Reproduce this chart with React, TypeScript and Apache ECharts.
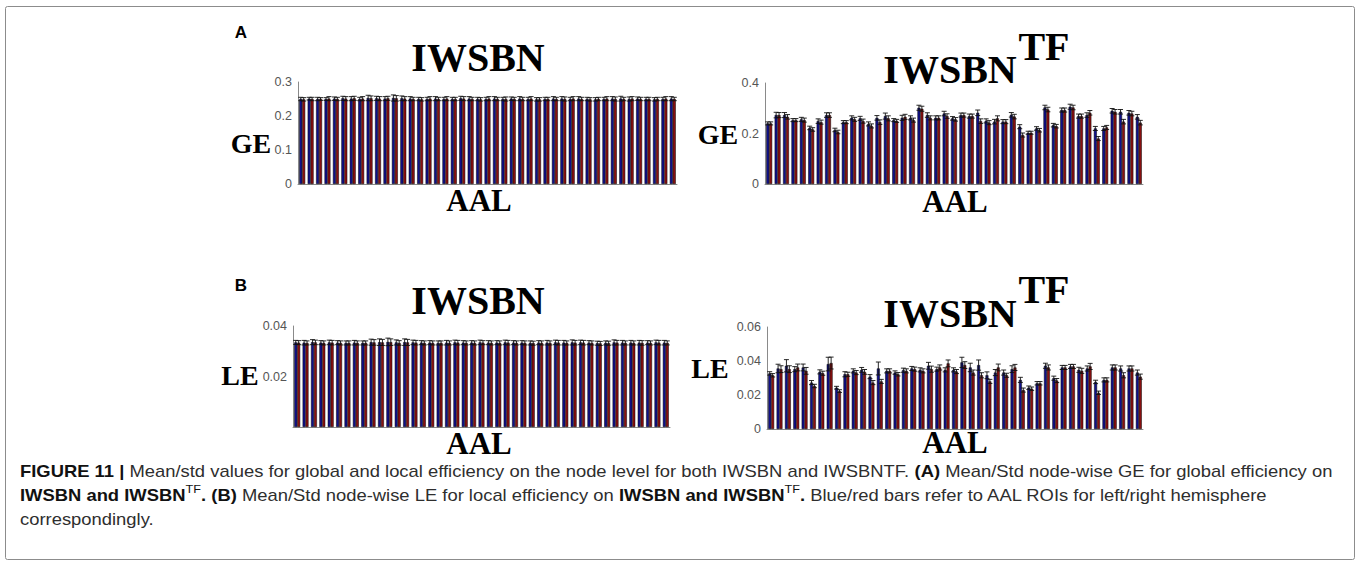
import React, { useEffect, useRef } from "react";
import * as echarts from "echarts";

// AAL regions, one category per left/right pair
const aalRegions = [
  "Precentral", "Frontal_Sup", "Frontal_Sup_Orb", "Frontal_Mid", "Frontal_Mid_Orb",
  "Frontal_Inf_Oper", "Frontal_Inf_Tri", "Frontal_Inf_Orb", "Rolandic_Oper", "Supp_Motor_Area",
  "Olfactory", "Frontal_Sup_Medial", "Frontal_Med_Orb", "Rectus", "Insula",
  "Cingulum_Ant", "Cingulum_Mid", "Cingulum_Post", "Hippocampus", "ParaHippocampal",
  "Amygdala", "Calcarine", "Cuneus", "Lingual", "Occipital_Sup",
  "Occipital_Mid", "Occipital_Inf", "Fusiform", "Postcentral", "Parietal_Sup",
  "Parietal_Inf", "SupraMarginal", "Angular", "Precuneus", "Paracentral_Lobule",
  "Caudate", "Putamen", "Pallidum", "Thalamus", "Heschl",
  "Temporal_Sup", "Temporal_Pole_Sup", "Temporal_Mid", "Temporal_Pole_Mid", "Temporal_Inf",
];

// (A) global efficiency, IWSBN
const geIwsbnLeft = [0.250, 0.251, 0.250, 0.250, 0.251, 0.252, 0.251, 0.250, 0.253, 0.252, 0.251, 0.253, 0.252, 0.251, 0.250, 0.250, 0.251, 0.250, 0.250, 0.252, 0.251, 0.250, 0.250, 0.251, 0.250, 0.251, 0.251, 0.250, 0.249, 0.250, 0.251, 0.251, 0.250, 0.251, 0.250, 0.249, 0.250, 0.251, 0.251, 0.250, 0.251, 0.250, 0.249, 0.250, 0.251];
const geIwsbnRight = [0.249, 0.250, 0.250, 0.251, 0.250, 0.251, 0.252, 0.251, 0.252, 0.251, 0.252, 0.252, 0.251, 0.250, 0.249, 0.251, 0.250, 0.251, 0.250, 0.251, 0.250, 0.249, 0.251, 0.250, 0.250, 0.250, 0.250, 0.251, 0.249, 0.250, 0.250, 0.250, 0.251, 0.250, 0.249, 0.250, 0.251, 0.250, 0.250, 0.251, 0.250, 0.250, 0.250, 0.251, 0.250];
const geIwsbnErrLeft = [0.005, 0.004, 0.005, 0.004, 0.005, 0.006, 0.006, 0.005, 0.008, 0.006, 0.006, 0.009, 0.007, 0.006, 0.005, 0.005, 0.006, 0.005, 0.005, 0.006, 0.006, 0.005, 0.005, 0.006, 0.005, 0.005, 0.006, 0.005, 0.005, 0.005, 0.006, 0.006, 0.005, 0.006, 0.005, 0.005, 0.005, 0.006, 0.007, 0.006, 0.005, 0.005, 0.005, 0.005, 0.006];
const geIwsbnErrRight = [0.005, 0.005, 0.004, 0.006, 0.005, 0.006, 0.006, 0.006, 0.007, 0.006, 0.006, 0.008, 0.006, 0.005, 0.005, 0.006, 0.005, 0.006, 0.005, 0.006, 0.005, 0.005, 0.006, 0.005, 0.006, 0.005, 0.005, 0.006, 0.005, 0.005, 0.005, 0.006, 0.006, 0.005, 0.005, 0.005, 0.006, 0.006, 0.005, 0.006, 0.005, 0.005, 0.005, 0.006, 0.005];

// (A) global efficiency, IWSBN^TF
const geTfLeft = [0.240, 0.273, 0.273, 0.253, 0.256, 0.222, 0.249, 0.273, 0.214, 0.245, 0.262, 0.260, 0.238, 0.262, 0.269, 0.253, 0.262, 0.262, 0.302, 0.273, 0.262, 0.279, 0.260, 0.273, 0.269, 0.282, 0.250, 0.247, 0.247, 0.274, 0.227, 0.203, 0.220, 0.303, 0.233, 0.293, 0.306, 0.269, 0.273, 0.220, 0.220, 0.290, 0.286, 0.282, 0.266];
const geTfRight = [0.240, 0.273, 0.266, 0.253, 0.253, 0.216, 0.245, 0.273, 0.206, 0.245, 0.256, 0.249, 0.230, 0.245, 0.260, 0.250, 0.266, 0.253, 0.298, 0.262, 0.262, 0.269, 0.256, 0.273, 0.269, 0.249, 0.243, 0.260, 0.247, 0.267, 0.194, 0.203, 0.213, 0.295, 0.229, 0.293, 0.303, 0.269, 0.282, 0.180, 0.224, 0.286, 0.247, 0.279, 0.243];
const geTfErrLeft = [0.006, 0.011, 0.010, 0.006, 0.008, 0.007, 0.009, 0.009, 0.007, 0.006, 0.008, 0.008, 0.008, 0.009, 0.012, 0.006, 0.010, 0.008, 0.010, 0.009, 0.008, 0.009, 0.007, 0.008, 0.008, 0.011, 0.008, 0.009, 0.008, 0.009, 0.008, 0.006, 0.007, 0.009, 0.007, 0.008, 0.010, 0.008, 0.009, 0.008, 0.008, 0.009, 0.009, 0.009, 0.009];
const geTfErrRight = [0.006, 0.010, 0.009, 0.006, 0.008, 0.007, 0.008, 0.009, 0.007, 0.006, 0.008, 0.008, 0.008, 0.009, 0.010, 0.006, 0.010, 0.008, 0.010, 0.008, 0.008, 0.009, 0.007, 0.008, 0.008, 0.009, 0.008, 0.010, 0.008, 0.009, 0.008, 0.006, 0.007, 0.009, 0.007, 0.008, 0.009, 0.008, 0.009, 0.008, 0.008, 0.009, 0.009, 0.009, 0.009];

// (B) local efficiency, IWSBN
const leIwsbnLeft = [0.0335, 0.0334, 0.0336, 0.0334, 0.0335, 0.0334, 0.0333, 0.0334, 0.0333, 0.0336, 0.0336, 0.0337, 0.0335, 0.0336, 0.0335, 0.0334, 0.0334, 0.0333, 0.0334, 0.0335, 0.0334, 0.0334, 0.0335, 0.0334, 0.0334, 0.0335, 0.0334, 0.0334, 0.0333, 0.0334, 0.0334, 0.0335, 0.0334, 0.0335, 0.0335, 0.0334, 0.0332, 0.0333, 0.0335, 0.0334, 0.0334, 0.0334, 0.0334, 0.0335, 0.0334];
const leIwsbnRight = [0.0334, 0.0333, 0.0335, 0.0333, 0.0334, 0.0333, 0.0333, 0.0333, 0.0333, 0.0335, 0.0335, 0.0336, 0.0333, 0.0335, 0.0334, 0.0333, 0.0333, 0.0333, 0.0333, 0.0334, 0.0333, 0.0333, 0.0334, 0.0333, 0.0333, 0.0334, 0.0333, 0.0333, 0.0332, 0.0333, 0.0333, 0.0334, 0.0333, 0.0334, 0.0334, 0.0333, 0.0331, 0.0332, 0.0334, 0.0333, 0.0333, 0.0333, 0.0333, 0.0334, 0.0333];
const leIwsbnErrLeft = [0.0008, 0.0009, 0.0010, 0.0008, 0.0009, 0.0008, 0.0008, 0.0009, 0.0008, 0.0012, 0.0013, 0.0015, 0.0010, 0.0013, 0.0009, 0.0008, 0.0008, 0.0008, 0.0009, 0.0009, 0.0008, 0.0008, 0.0009, 0.0008, 0.0008, 0.0009, 0.0008, 0.0008, 0.0008, 0.0008, 0.0009, 0.0009, 0.0009, 0.0010, 0.0009, 0.0008, 0.0008, 0.0008, 0.0010, 0.0009, 0.0009, 0.0009, 0.0008, 0.0009, 0.0009];
const leIwsbnErrRight = [0.0008, 0.0008, 0.0009, 0.0008, 0.0009, 0.0008, 0.0008, 0.0008, 0.0008, 0.0011, 0.0012, 0.0013, 0.0009, 0.0012, 0.0009, 0.0008, 0.0008, 0.0008, 0.0008, 0.0009, 0.0008, 0.0008, 0.0008, 0.0008, 0.0008, 0.0009, 0.0008, 0.0008, 0.0008, 0.0008, 0.0008, 0.0009, 0.0008, 0.0009, 0.0009, 0.0008, 0.0008, 0.0008, 0.0009, 0.0008, 0.0008, 0.0009, 0.0008, 0.0009, 0.0008];

// (B) local efficiency, IWSBN^TF
const leTfLeft = [0.0327, 0.0356, 0.0372, 0.0352, 0.0362, 0.0273, 0.0336, 0.0382, 0.0243, 0.0322, 0.0342, 0.0348, 0.0308, 0.0356, 0.0342, 0.0332, 0.0346, 0.0356, 0.0348, 0.0372, 0.0352, 0.0348, 0.0348, 0.0392, 0.0362, 0.0376, 0.0316, 0.0332, 0.0332, 0.0352, 0.0289, 0.0243, 0.0269, 0.0372, 0.0299, 0.0362, 0.0368, 0.0348, 0.0356, 0.0277, 0.0289, 0.0362, 0.0356, 0.0356, 0.0332];
const leTfRight = [0.0316, 0.0352, 0.0352, 0.0362, 0.0342, 0.0253, 0.0328, 0.0388, 0.0223, 0.0322, 0.0332, 0.0336, 0.0273, 0.0280, 0.0342, 0.0322, 0.0342, 0.0352, 0.0342, 0.0352, 0.0362, 0.0386, 0.0338, 0.0376, 0.0332, 0.0316, 0.0280, 0.0362, 0.0316, 0.0362, 0.0229, 0.0237, 0.0269, 0.0362, 0.0285, 0.0362, 0.0368, 0.0342, 0.0368, 0.0213, 0.0289, 0.0362, 0.0316, 0.0356, 0.0308];
const leTfErrLeft = [0.0010, 0.0025, 0.0036, 0.0015, 0.0020, 0.0012, 0.0012, 0.0040, 0.0008, 0.0015, 0.0012, 0.0014, 0.0012, 0.0038, 0.0012, 0.0010, 0.0012, 0.0012, 0.0012, 0.0020, 0.0012, 0.0012, 0.0012, 0.0030, 0.0025, 0.0030, 0.0020, 0.0018, 0.0015, 0.0020, 0.0015, 0.0010, 0.0010, 0.0015, 0.0012, 0.0012, 0.0012, 0.0015, 0.0015, 0.0010, 0.0012, 0.0015, 0.0015, 0.0015, 0.0015];
const leTfErrRight = [0.0010, 0.0020, 0.0020, 0.0020, 0.0020, 0.0010, 0.0012, 0.0035, 0.0008, 0.0012, 0.0012, 0.0014, 0.0012, 0.0012, 0.0012, 0.0010, 0.0012, 0.0012, 0.0012, 0.0018, 0.0015, 0.0020, 0.0012, 0.0020, 0.0015, 0.0015, 0.0012, 0.0020, 0.0012, 0.0018, 0.0012, 0.0010, 0.0010, 0.0015, 0.0012, 0.0012, 0.0012, 0.0015, 0.0018, 0.0010, 0.0012, 0.0015, 0.0015, 0.0015, 0.0015];

// Figure caption, as runs of [style, text]: r = regular, b = bold, s = superscript
const captionLines: [string, string][][] = [
  [
    ["b", "FIGURE 11 |"],
    ["r", " Mean/std values for global and local efficiency on the node level for both IWSBN and IWSBNTF. "],
    ["b", "(A)"],
    ["r", " Mean/Std node-wise GE for global efficiency on"],
  ],
  [
    ["b", "IWSBN and IWSBN"],
    ["s", "TF"],
    ["b", ". (B)"],
    ["r", " Mean/Std node-wise LE for local efficiency on "],
    ["b", "IWSBN and IWSBN"],
    ["s", "TF"],
    ["b", "."],
    ["r", " Blue/red bars refer to AAL ROIs for left/right hemisphere"],
  ],
  [["r", "correspondingly."]],
];

const BLUE = "#10108a";
const RED = "#8a1010";
const CAT_GAP = 0.3;

const SERIF = '"Liberation Serif", "Times New Roman", serif';
const SANS = '"Liberation Sans", Arial, sans-serif';
const CAP_SIZE = 16;
const SUP_SIZE = 11;
const CAPTION_LEFT = 20;
const CAPTION_WIDTH = 1318;

type Panel = {
  left: number; top: number; width: number; height: number;
  max: number; interval: number; hideZero?: boolean;
  blue: number[]; red: number[]; errBlue: number[]; errRed: number[];
};

const panels: Panel[] = [
  { left: 298, top: 82, width: 379, height: 102, max: 0.3, interval: 0.1, blue: geIwsbnLeft, red: geIwsbnRight, errBlue: geIwsbnErrLeft, errRed: geIwsbnErrRight },
  { left: 765, top: 83, width: 378, height: 101, max: 0.4, interval: 0.2, blue: geTfLeft, red: geTfRight, errBlue: geTfErrLeft, errRed: geTfErrRight },
  { left: 293, top: 326, width: 377, height: 101, max: 0.04, interval: 0.02, hideZero: true, blue: leIwsbnLeft, red: leIwsbnRight, errBlue: leIwsbnErrLeft, errRed: leIwsbnErrRight },
  { left: 767, top: 327, width: 376, height: 102, max: 0.06, interval: 0.02, blue: leTfLeft, red: leTfRight, errBlue: leTfErrLeft, errRed: leTfErrRight },
];

function errorBars(idx: number, vals: number[], errs: number[], side: number) {
  return {
    type: "custom",
    xAxisIndex: idx,
    yAxisIndex: idx,
    z: 5,
    silent: true,
    data: vals.map((v, i) => [i, v, errs[i]]),
    renderItem: (_params: any, api: any) => {
      const i = api.value(0);
      const v = api.value(1);
      const e = api.value(2);
      const band = api.size([1, 0])[0];
      const barW = (band * (1 - CAT_GAP)) / 2;
      const hi = api.coord([i, v + e]);
      const lo = api.coord([i, v - e]);
      const x = hi[0] + (side * barW) / 2;
      const half = barW * 0.85;
      const stroke = { stroke: "#111", lineWidth: 0.9 };
      return {
        type: "group",
        children: [
          { type: "line", shape: { x1: x, y1: hi[1], x2: x, y2: lo[1] }, style: stroke },
          { type: "line", shape: { x1: x - half, y1: hi[1], x2: x + half, y2: hi[1] }, style: stroke },
          { type: "line", shape: { x1: x - half, y1: lo[1], x2: x + half, y2: lo[1] }, style: stroke },
        ],
      };
    },
  };
}

function label(text: string, x: number, y: number, size: number, font = SERIF, weight: any = "bold") {
  return {
    type: "text",
    x,
    y,
    style: { text, fontSize: size, fontFamily: font, fontWeight: weight, fill: "#000", align: "center", verticalAlign: "middle" },
  };
}

const captionRich = {
  r: { fontFamily: SANS, fontSize: CAP_SIZE, fill: "#2e2e2e", lineHeight: 22 },
  b: { fontFamily: SANS, fontSize: CAP_SIZE, fontWeight: "bold", fill: "#111", lineHeight: 22 },
  s: { fontFamily: SANS, fontSize: SUP_SIZE, fill: "#111", verticalAlign: "top", lineHeight: 22, padding: [0, 0, 6, 0] },
};

// width of one caption line at its natural size, used to stretch the text to the column width
function measureLine(runs: [string, string][]) {
  const canvas = document.createElement("canvas");
  const ctx = canvas.getContext("2d");
  if (!ctx) return CAPTION_WIDTH;
  let w = 0;
  runs.forEach(([st, txt]) => {
    const size = st === "s" ? SUP_SIZE : CAP_SIZE;
    const weight = st === "b" ? "bold" : "normal";
    ctx.font = `${weight} ${size}px ${SANS}`;
    w += ctx.measureText(txt).width;
  });
  return w;
}

function captionLine(runs: [string, string][], y: number, scaleX: number) {
  return {
    type: "text",
    x: CAPTION_LEFT,
    y,
    scaleX,
    style: {
      text: runs.map(([st, txt]) => `{${st}|${txt}}`).join(""),
      fontFamily: SANS,
      fontSize: CAP_SIZE,
      verticalAlign: "middle",
      rich: captionRich,
    },
  };
}

export default function App() {
  const ref = useRef<HTMLDivElement>(null);

  useEffect(() => {
    if (!ref.current) return;
    const chart = echarts.init(ref.current, null, { renderer: "svg" });

    const grid = panels.map((p) => ({ left: p.left, top: p.top, width: p.width, height: p.height, containLabel: false }));
    const xAxis = panels.map((_, i) => ({
      type: "category",
      gridIndex: i,
      data: aalRegions,
      axisLine: { show: true, lineStyle: { color: "#8a8a8a", width: 1 } },
      axisTick: { show: false },
      axisLabel: { show: false },
    }));
    const yAxis = panels.map((p, i) => ({
      type: "value",
      gridIndex: i,
      min: 0,
      max: p.max,
      interval: p.interval,
      splitLine: { show: false },
      axisTick: { show: false },
      axisLine: { show: true, lineStyle: { color: "#8a8a8a", width: 1 } },
      axisLabel: {
        color: "#555",
        fontSize: 12.5,
        fontFamily: SANS,
        margin: 6,
        formatter: (v: number) => (p.hideZero && v === 0 ? "" : String(+v.toFixed(4))),
      },
    }));

    const series: any[] = [];
    panels.forEach((p, i) => {
      const bar = (data: number[], color: string) => ({
        type: "bar",
        xAxisIndex: i,
        yAxisIndex: i,
        data,
        barGap: "0%",
        barCategoryGap: `${CAT_GAP * 100}%`,
        itemStyle: { color, borderColor: "#000", borderWidth: 0.5 },
        silent: true,
      });
      series.push(bar(p.blue, BLUE), bar(p.red, RED));
      series.push(errorBars(i, p.blue, p.errBlue, -1), errorBars(i, p.red, p.errRed, 1));
    });

    const capScale = Math.min(1.15, Math.max(0.85, CAPTION_WIDTH / measureLine(captionLines[0])));

    const graphic: any[] = [
      { type: "rect", shape: { x: 5.5, y: 6.5, width: 1349, height: 553, r: 2 }, style: { fill: "none", stroke: "#8c8c8c", lineWidth: 1 } },
      label("A", 241, 32, 17, SANS),
      label("B", 241, 285, 17, SANS),
      label("IWSBN", 478, 57, 40),
      label("IWSBN", 950, 69, 40),
      label("TF", 1044, 46, 40),
      label("IWSBN", 478, 300, 40),
      label("IWSBN", 950, 313, 40),
      label("TF", 1044, 289, 40),
      label("GE", 251, 143, 28),
      label("GE", 718, 134, 28),
      label("LE", 240, 375, 28),
      label("LE", 710, 368, 28),
      label("AAL", 479, 200, 31),
      label("AAL", 955, 201, 31),
      label("AAL", 479, 443, 31),
      label("AAL", 955, 442, 31),
      captionLine(captionLines[0], 471, capScale),
      captionLine(captionLines[1], 495, capScale),
      captionLine(captionLines[2], 519, capScale),
    ];

    chart.setOption({
      animation: false,
      backgroundColor: "#fff",
      grid,
      xAxis,
      yAxis,
      series,
      graphic,
    });

    return () => chart.dispose();
  }, []);

  return <div ref={ref} style={{ position: "absolute", left: 0, top: 0, width: 1360, height: 569 }} />;
}
